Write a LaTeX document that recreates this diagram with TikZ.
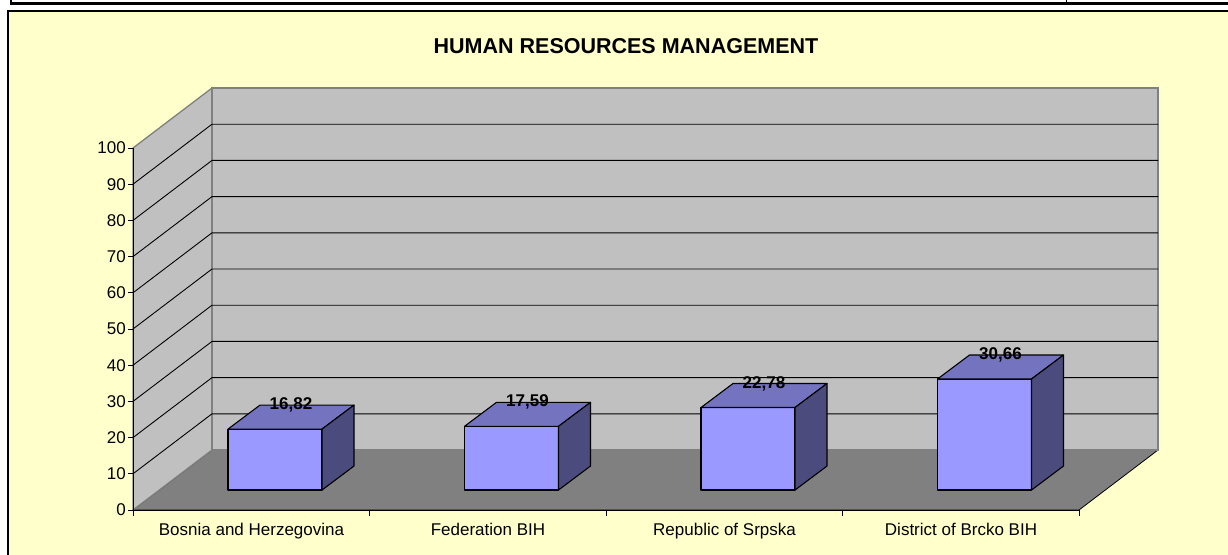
\documentclass[tikz,border=0pt]{standalone}
\usepackage{fontspec}
\setmainfont{Liberation Sans}
\usepackage{tikz}
\usetikzlibrary{positioning}
\definecolor{chartbg}{HTML}{FFFFCC}
\definecolor{wallgray}{HTML}{C0C0C0}
\definecolor{floorgray}{HTML}{808080}
\definecolor{barfront}{HTML}{9999FF}
\definecolor{bartop}{HTML}{7373BF}
\definecolor{barside}{HTML}{4B4B7D}
\tikzset{
  wall/.style={fill=wallgray, draw=floorgray, line width=1.3pt},
  grid line/.style={black, line width=0.9pt},
  bar face/.style={draw=black, line width=1.1pt, line join=round},
  tick label/.style={anchor=east, inner sep=0pt, font=\fontsize{17}{20}\selectfont},
  cat label/.style={anchor=base, inner sep=0pt, font=\fontsize{17}{20}\selectfont},
  val label/.style={inner sep=0pt, font=\bfseries\fontsize{17}{20}\selectfont},
}

\begin{document}
\begin{tikzpicture}[x=1pt,y=-1pt]
    \useasboundingbox (0,0) rectangle (1228,554);
    \fill[white] (0,0) rectangle (1228,554);
    % frame above the chart
    \draw[line width=2.5pt] (10,3.5) -- (1228,3.5);
    \draw[line width=2pt] (11,0) -- (11,4.5);
    \draw[line width=1pt] (1066,0) -- (1066,2);
    \draw[fill=chartbg, line width=1.2pt] (8,11) rectangle (1232,558);
    \node[anchor=base, inner sep=0pt, font=\bfseries\fontsize{21.5}{24}\selectfont] (title) at (626,53) {HUMAN RESOURCES MANAGEMENT};
    % walls and floor
    \draw[black, line width=0.8pt, fill=floorgray] (133,510) -- (212,450) -- (1158,450) -- (1079,510) -- cycle;
    \draw[wall] (133,148) -- (212,88) -- (212,450) -- (133,510) -- cycle;
    \draw[wall] (212,88) rectangle (1158,450);
    \foreach \v in {10,20,...,90} {
      \draw[grid line] (133,{510-3.62*\v}) -- (212,{450-3.62*\v}) -- (1158,{450-3.62*\v});
    }
    % axes
    \draw[line width=1pt] (133,148) -- (133,510) -- (1079,510);
    \foreach \v in {0,10,...,100} {
      \draw[line width=1pt] (128,{510-3.62*\v}) -- (133,{510-3.62*\v});
      \node[tick label] (tick\v) at (126,{510-3.62*\v}) {\v};
    }
    \foreach \k in {0,...,4} \draw[line width=1pt] ({133+236.5*\k},510) -- ++(0,6);
    % bars
    \foreach \v/\t/\name [count=\i] in {16.82/{16,82}/Bosnia and Herzegovina, 17.59/{17,59}/Federation BIH, 22.78/{22,78}/Republic of Srpska, 30.66/{30,66}/District of Brcko BIH} {
      \pgfmathsetmacro\xl{228+236.5*(\i-1)}
      \pgfmathsetmacro\xr{\xl+94}
      \pgfmathsetmacro\yt{490-3.62*\v}
      \draw[bar face, fill=barfront] (\xl,490) rectangle (\xr,\yt);
      \draw[bar face, fill=bartop] (\xl,\yt) -- ++(32,-24) -- ++(94,0) -- (\xr,\yt) -- cycle;
      \draw[bar face, fill=barside] (\xr,490) -- ++(32,-24) -- ({\xr+32},{\yt-24}) -- (\xr,\yt) -- cycle;
      \node[val label] (val\i) at ({\xl+63},{\yt-24}) {\t};
      \node[cat label] (cat\i) at ({251.5+236.5*(\i-1)},535) {\name};
    }
\end{tikzpicture}
\end{document}
